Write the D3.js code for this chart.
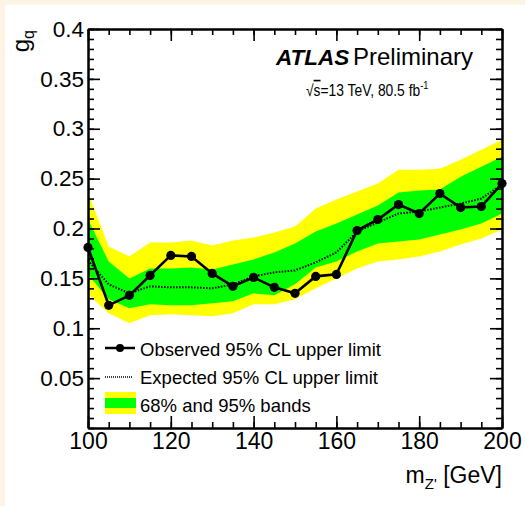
<!DOCTYPE html>
<html>
<head>
<meta charset="utf-8">
<script src="https://cdn.jsdelivr.net/npm/d3@7"></script>
<style>
  html, body { margin: 0; padding: 0; background: #fcf5e3; }
  svg { display: block; font-family: 'Liberation Sans', Arial, Helvetica, sans-serif; }
</style>
</head>
<body>
<div id="chart"></div>
<script>
// Z' mass points (GeV)
const massPoints = [100, 105, 110, 115, 120, 125, 130, 135, 140, 145, 150,
  155, 160, 165, 170, 175, 180, 185, 190, 195, 200];

// 95% CL upper limits on g_q
const observed = [0.181, 0.123, 0.133, 0.153, 0.173, 0.172, 0.155, 0.142, 0.151, 0.141, 0.135,
  0.152, 0.154, 0.198, 0.209, 0.224, 0.215, 0.235, 0.221, 0.222, 0.245];
const expected = [0.168, 0.144, 0.135, 0.142, 0.141, 0.141, 0.140, 0.144, 0.152, 0.156, 0.158,
  0.166, 0.176, 0.197, 0.206, 0.215, 0.217, 0.221, 0.225, 0.230, 0.244];

// expected bands
const oneSigmaUp = [0.209, 0.167, 0.150, 0.160, 0.160, 0.161, 0.159, 0.164, 0.169, 0.176, 0.185,
  0.197, 0.205, 0.214, 0.223, 0.236, 0.238, 0.239, 0.252, 0.262, 0.272];
const oneSigmaDown = [0.154, 0.129, 0.120, 0.124, 0.123, 0.123, 0.125, 0.127, 0.135, 0.133, 0.144,
  0.161, 0.167, 0.177, 0.185, 0.187, 0.189, 0.194, 0.199, 0.205, 0.215];
const twoSigmaUp = [0.236, 0.182, 0.172, 0.186, 0.186, 0.188, 0.183, 0.188, 0.191, 0.196, 0.202,
  0.220, 0.229, 0.237, 0.245, 0.259, 0.259, 0.260, 0.269, 0.279, 0.289];
const twoSigmaDown = [0.134, 0.115, 0.105, 0.113, 0.114, 0.113, 0.112, 0.115, 0.124, 0.124, 0.129,
  0.140, 0.150, 0.160, 0.167, 0.169, 0.172, 0.177, 0.184, 0.190, 0.199];

// tick labels
const xTicks = [100, 120, 140, 160, 180, 200];
const yTicks = [0.05, 0.1, 0.15, 0.2, 0.25, 0.3, 0.35, 0.4];

const width = 525;
const height = 506;
const plot = { left: 88, right: 502, top: 29, bottom: 428 };

let svg = d3
  .select('#chart')
  .append('svg')
  .attr('width', width)
  .attr('height', height);

// white canvas with cream border top/left
svg.append('rect')
  .attr('x', 5).attr('y', 5)
  .attr('width', width - 5).attr('height', height - 5)
  .attr('fill', '#fff');

let x = d3.scaleLinear().domain([100, 200]).range([plot.left, plot.right]);
let y = d3.scaleLinear().domain([0, 0.4]).range([plot.bottom, plot.top]);

let rows = massPoints.map((m, i) => ({
  m,
  obs: observed[i],
  exp: expected[i],
  up1: oneSigmaUp[i],
  dn1: oneSigmaDown[i],
  up2: twoSigmaUp[i],
  dn2: twoSigmaDown[i]
}));

// bands
let band2 = d3.area().x(d => x(d.m)).y0(d => y(d.dn2)).y1(d => y(d.up2));
let band1 = d3.area().x(d => x(d.m)).y0(d => y(d.dn1)).y1(d => y(d.up1));

svg.append('path').attr('d', band2(rows)).attr('fill', '#ffff00');
svg.append('path').attr('d', band1(rows)).attr('fill', '#00ff00');

// expected line
let expLine = d3.line().x(d => x(d.m)).y(d => y(d.exp));
svg.append('path')
  .attr('d', expLine(rows))
  .attr('fill', 'none')
  .attr('stroke', '#000')
  .attr('stroke-width', 2)
  .attr('stroke-dasharray', '1.5,1.5');

// axes (ticks point inward on all four sides)
function drawAxis(axis, tx, ty, size, values, labels) {
  let g = svg.append('g')
    .attr('transform', `translate(${tx},${ty})`)
    .call(axis.tickValues(values).tickSize(-size).tickSizeOuter(0)
      .tickPadding(labels ? 6 : 0)
      .tickFormat(labels ? d => String(d) : ''));
  g.select('.domain').attr('stroke-width', 2);
  g.selectAll('.tick line').attr('stroke-width', 1.6);
  g.selectAll('text')
    .attr('font-size', 23)
    .attr('font-family', "'Liberation Sans', Arial, sans-serif")
    .attr('fill', '#000');
  return g;
}

let xMinor = d3.range(100, 201, 5);
let yMinor = d3.range(0, 41).map(v => v / 100);

drawAxis(d3.axisBottom(x), 0, plot.bottom, 6, xMinor, false);
drawAxis(d3.axisTop(x), 0, plot.top, 6, xMinor, false);
drawAxis(d3.axisLeft(y), plot.left, 0, 6, yMinor, false);
drawAxis(d3.axisRight(y), plot.right, 0, 6, yMinor, false);

drawAxis(d3.axisTop(x), 0, plot.top, 12, xTicks, false);
drawAxis(d3.axisRight(y), plot.right, 0, 12, yTicks, false);
let xAxisG = drawAxis(d3.axisBottom(x), 0, plot.bottom, 12, xTicks, true);
xAxisG.selectAll('text').attr('dy', '0.75em').attr('y', 4);
let yAxisG = drawAxis(d3.axisLeft(y), plot.left, 0, 12, yTicks, true);
yAxisG.selectAll('text').attr('x', -4).attr('font-size', 22.5);

// observed line + markers
let obsLine = d3.line().x(d => x(d.m)).y(d => y(d.obs));
svg.append('path')
  .attr('d', obsLine(rows))
  .attr('fill', 'none')
  .attr('stroke', '#000')
  .attr('stroke-width', 2.6);

svg.selectAll('circle.obs')
  .data(rows)
  .enter()
  .append('circle')
  .attr('class', 'obs')
  .attr('cx', d => x(d.m))
  .attr('cy', d => y(d.obs))
  .attr('r', 4.6)
  .attr('fill', '#000');

// axis titles
let xTitle = svg.append('text')
  .attr('x', plot.right)
  .attr('y', 483)
  .attr('text-anchor', 'end')
  .attr('font-size', 23);
xTitle.append('tspan').text('m');
xTitle.append('tspan').attr('font-size', 15).attr('dy', 6).text("Z'");
xTitle.append('tspan').attr('dy', -6).text(' [GeV]');

let yTitle = svg.append('text')
  .attr('transform', 'translate(29,30) rotate(-90)')
  .attr('text-anchor', 'end')
  .attr('font-size', 24);
yTitle.append('tspan').text('g');
yTitle.append('tspan').attr('font-size', 16).attr('dy', 5).text('q');

// ATLAS label
svg.append('text')
  .attr('x', 276).attr('y', 65)
  .attr('font-size', 22.5)
  .attr('font-weight', 'bold')
  .attr('font-style', 'italic')
  .text('ATLAS');
svg.append('text')
  .attr('x', 353).attr('y', 65)
  .attr('font-size', 24)
  .text('Preliminary');

let lumi = svg.append('text')
  .attr('transform', 'translate(306,96) scale(0.84,1)')
  .attr('font-size', 16.5);
lumi.append('tspan').text('\u221A');
lumi.append('tspan').attr('text-decoration', 'overline').text('s');
lumi.append('tspan').text('=13 TeV, 80.5 fb');
lumi.append('tspan').attr('font-size', 11).attr('dy', -7).text('-1');

// legend
let legend = svg.append('g');
legend.append('line')
  .attr('x1', 105).attr('x2', 135).attr('y1', 348).attr('y2', 348)
  .attr('stroke', '#000').attr('stroke-width', 2.5);
legend.append('circle').attr('cx', 120).attr('cy', 348).attr('r', 4).attr('fill', '#000');
legend.append('line')
  .attr('x1', 105).attr('x2', 133).attr('y1', 377).attr('y2', 377)
  .attr('stroke', '#000').attr('stroke-width', 1.5)
  .attr('stroke-dasharray', '1,1');
legend.append('rect')
  .attr('x', 105).attr('y', 392).attr('width', 31).attr('height', 22)
  .attr('fill', '#ffff00');
legend.append('rect')
  .attr('x', 105).attr('y', 398).attr('width', 31).attr('height', 10)
  .attr('fill', '#00ff00');

let legendLabels = ['Observed 95% CL upper limit', 'Expected 95% CL upper limit', '68% and 95% bands'];
legend.selectAll('text')
  .data(legendLabels)
  .enter()
  .append('text')
  .attr('x', 140)
  .attr('y', (d, i) => 356 + i * 28)
  .attr('font-size', 18.5)
  .text(d => d);
</script>
</body>
</html>
